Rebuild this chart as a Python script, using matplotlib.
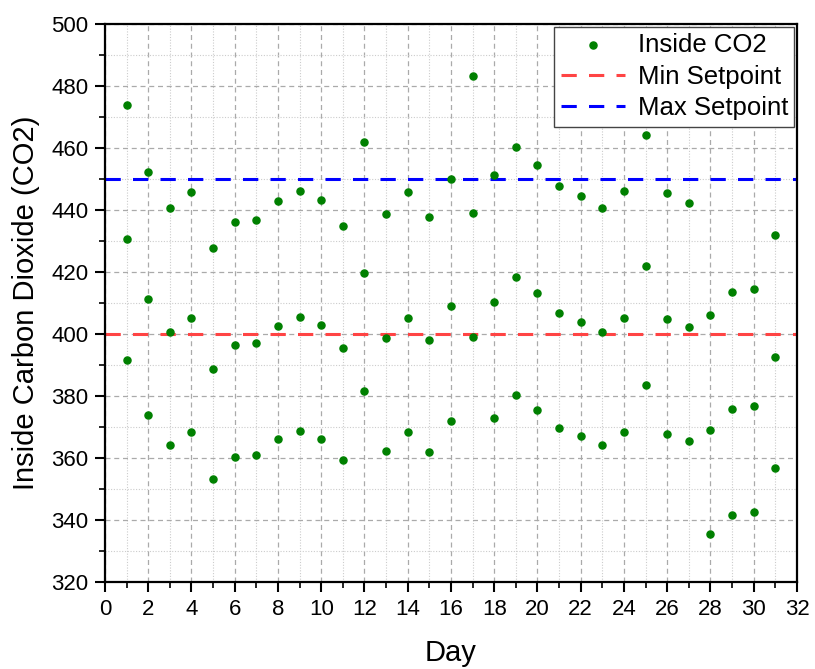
import matplotlib
matplotlib.use("Agg")
import matplotlib.pyplot as plt
from matplotlib.ticker import MultipleLocator

# Dados (3 leituras por dia)
dias = list(range(1, 32))
co2_alto = [473.9, 452.4, 440.8, 445.8, 427.7, 436.2, 436.8, 442.9, 446.2, 443.1,
            435.0, 461.8, 438.6, 445.8, 437.8, 450.1, 483.2, 451.4, 460.3, 454.5,
            447.6, 444.5, 440.8, 446.0, 464.1, 445.4, 442.4, 406.1, 413.4, 414.5, 431.8]
co2_medio = [430.7, 411.3, 400.7, 405.3, 388.7, 396.6, 397.0, 402.6, 405.6, 403.0,
             395.5, 419.7, 398.6, 405.3, 398.0, 409.1, 439.2, 410.2, 418.4, 413.1,
             406.8, 404.0, 400.5, 405.3, 421.8, 404.8, 402.2, 369.1, 375.7, 376.8, 392.5]
co2_baixo = [391.5, 373.9, 364.1, 368.3, 353.3, 360.4, 360.9, 366.0, 368.6, 366.2,
             359.5, 381.6, 362.3, 368.3, 361.8, 371.8, 399.2, 372.9, 380.3, 375.6,
             369.8, 367.2, 364.1, 368.3, 383.5, 367.9, 365.6, 335.5, 341.5, 342.5, 356.8]
setpoint_min = 400
setpoint_max = 450

plt.rcParams['font.family'] = ['Liberation Sans', 'DejaVu Sans']

x = dias * 3
y = co2_alto + co2_medio + co2_baixo

fig = plt.figure(figsize=(8.15, 6.69), dpi=100)
ax = fig.add_axes([0.1288, 0.13, 0.8491, 0.8341])

ax.scatter(x, y, s=26, color='#008000', label='Inside CO2', zorder=3)
ax.axhline(setpoint_min, color='#ff4444', lw=2.2, ls=(0, (5, 4)), label='Min Setpoint', zorder=2)
ax.axhline(setpoint_max, color='#0000ff', lw=2.2, ls=(0, (5, 4)), label='Max Setpoint', zorder=2)

ax.set_xlim(0, 32)
ax.set_ylim(320, 500)
ax.xaxis.set_major_locator(MultipleLocator(2))
ax.xaxis.set_minor_locator(MultipleLocator(1))
ax.yaxis.set_major_locator(MultipleLocator(20))
ax.yaxis.set_minor_locator(MultipleLocator(10))

ax.grid(which='major', color='#aaaaaa', ls=(0, (4, 3)), lw=0.9)
ax.grid(which='minor', color='#cccccc', ls=(0, (1, 1.5)), lw=0.8)
ax.set_axisbelow(True)

for s in ax.spines.values():
    s.set_linewidth(1.6)
ax.tick_params(which='major', direction='out', length=7, width=1.5, labelsize=16, pad=5)
ax.tick_params(which='minor', direction='out', length=4, width=1.2)

ax.set_xlabel('Day', fontsize=21, labelpad=14)
ax.set_ylabel('Inside Carbon Dioxide (CO2)', fontsize=21, labelpad=8)

leg = ax.legend(loc='upper right', fontsize=18.5, frameon=True, fancybox=False,
                edgecolor='#444444', framealpha=1, borderaxespad=0.1,
                handlelength=2.5, handletextpad=0.5, borderpad=0.25, labelspacing=0.3)
leg.get_frame().set_linewidth(1.0)

plt.savefig('out.png', dpi=100)
